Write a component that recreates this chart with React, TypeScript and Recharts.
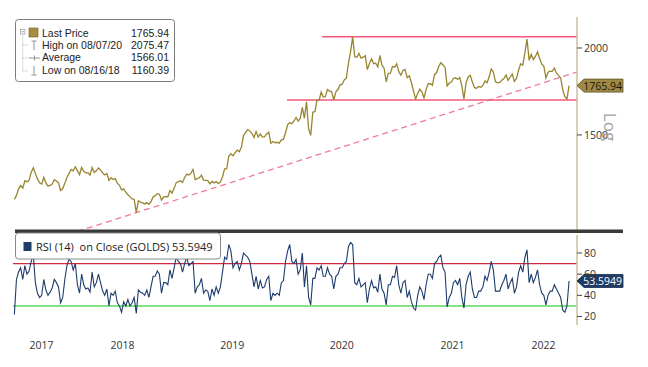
import React from 'react';
import { LineChart, Line, XAxis, YAxis, ReferenceLine, ReferenceDot } from 'recharts';

// Weekly closes starting 07 Jul 2017 (one value per week)
const priceValues: number[] = [
  // 2017
  1212, 1228, 1254, 1269, 1258, 1289, 1284, 1291, 1325, 1346, 1320, 1297, 1280, 1275, 1304, 1280, 1266, 1269, 1275, 1294, 1288, 1280, 1248, 1256, 1278, 1303,
  // 2018
  1320, 1338, 1332, 1350, 1333, 1315, 1347, 1330, 1323, 1324, 1313, 1347, 1325, 1332, 1345, 1336, 1323, 1314, 1320, 1291, 1302, 1294, 1298, 1279, 1270, 1251,
  1255, 1241, 1231, 1223, 1214, 1212, 1160, 1206, 1201, 1198, 1194, 1199, 1192, 1203, 1222, 1227, 1235, 1233, 1209, 1222, 1223, 1222, 1248, 1238, 1257, 1281,
  // 2019
  1285, 1289, 1282, 1303, 1318, 1314, 1322, 1338, 1294, 1298, 1302, 1313, 1292, 1291, 1290, 1276, 1286, 1280, 1286, 1277, 1284, 1305, 1341, 1341, 1399, 1409,
  1400, 1415, 1426, 1419, 1440, 1497, 1513, 1527, 1520, 1507, 1488, 1517, 1489, 1505, 1489, 1490, 1505, 1514, 1459, 1468, 1462, 1464, 1460, 1476, 1478, 1511,
  // 2020
  1552, 1562, 1557, 1571, 1589, 1570, 1584, 1643, 1585, 1674, 1530, 1498, 1617, 1620, 1683, 1683, 1729, 1701, 1703, 1743, 1734, 1730, 1684, 1730, 1743, 1771,
  1774, 1799, 1810, 1902, 1975, 2075, 1944, 1940, 1964, 1934, 1940, 1950, 1862, 1900, 1930, 1899, 1902, 1879, 1951, 1889, 1871, 1788, 1839, 1840, 1881, 1877,
  // 2021
  1898, 1850, 1828, 1856, 1863, 1814, 1824, 1784, 1734, 1690, 1720, 1745, 1730, 1695, 1744, 1777, 1777, 1768, 1831, 1844, 1881, 1905, 1891, 1877, 1764, 1781,
  1787, 1808, 1812, 1802, 1814, 1763, 1690, 1781, 1817, 1827, 1787, 1754, 1750, 1761, 1757, 1767, 1793, 1783, 1818, 1865, 1846, 1788, 1783, 1783, 1798, 1808, 1829,
  // 2022
  1797, 1817, 1835, 1791, 1808, 1860, 1898, 1889, 1970, 2060, 1921, 1958, 1925, 1945, 1975, 1931, 1897, 1883, 1811, 1846, 1853, 1851, 1871, 1840, 1827, 1811,
  1742, 1703, 1690, 1765.94,
];

const rsiValues: number[] = [
  // 2017
  22, 55, 62, 66, 55, 68, 60, 63, 72, 78, 52, 42, 38, 40, 55, 45, 40, 43, 47, 55, 52, 48, 33, 38, 55, 68,
  // 2018
  74, 72, 64, 70, 50, 42, 60, 50, 46, 47, 43, 62, 48, 52, 60, 52, 44, 40, 46, 30, 42, 40, 44, 33, 30, 24,
  34, 30, 36, 30, 33, 38, 23, 45, 43, 42, 40, 45, 38, 48, 58, 58, 63, 60, 42, 52, 52, 50, 64, 56, 66, 76,
  // 2019
  72, 70, 62, 70, 76, 68, 70, 72, 42, 48, 50, 56, 42, 45, 44, 35, 46, 40, 48, 42, 48, 62, 76, 74, 88, 82,
  66, 70, 72, 64, 70, 80, 78, 76, 72, 60, 48, 58, 46, 54, 47, 48, 55, 58, 35, 42, 40, 42, 40, 52, 54, 72,
  // 2020
  82, 88, 72, 70, 74, 60, 64, 80, 48, 68, 38, 31, 56, 56, 66, 64, 68, 58, 58, 66, 60, 58, 46, 58, 60, 66,
  66, 70, 72, 86, 90, 88, 52, 50, 56, 48, 50, 52, 33, 46, 54, 47, 48, 43, 60, 46, 42, 31, 50, 50, 58, 57,
  // 2021
  68, 50, 42, 52, 54, 38, 44, 34, 28, 26, 40, 48, 44, 36, 50, 60, 60, 56, 70, 72, 76, 78, 66, 62, 29, 38,
  42, 52, 54, 50, 56, 38, 28, 50, 58, 62, 46, 38, 38, 44, 44, 48, 58, 54, 62, 72, 64, 44, 44, 44, 50, 54, 60,
  // 2022
  46, 52, 56, 42, 48, 62, 68, 62, 76, 83, 52, 60, 52, 57, 64, 50, 42, 40, 31, 40, 44, 44, 50, 46, 42, 38,
  26, 24, 30, 53.5949,
];

const xTickValues = [2017.76, 2018.5, 2019.5, 2020.5, 2021.51, 2022.34];
const xTickLabels = ['2017', '2018', '2019', '2020', '2021', '2022'];
const priceTicks = [1500, 2000];
const rsiTicks = [20, 40, 60, 80];

const lastPrice = 1765.94;
const highPrice = 2075.47;
const avgPrice = 1566.01;
const lowPrice = 1160.39;
const rsiLast = 53.5949;
const supportLevel = 1684;
const resistanceStart = 2020.32;
const supportStart = 2020.0;
const trendFrom = { x: 2018.0, y: 1079 };
const trendTo = { x: 2022.645, y: 1847 };

const X_DOMAIN: [number, number] = [2017.5, 2022.645];
const PRICE_DOMAIN: [number, number] = [1088, 2216];
const RSI_DOMAIN: [number, number] = [12, 97];

const weekToYear = (i: number) => {
  const ms = Date.UTC(2017, 6, 7) + i * 7 * 86400000;
  const d = new Date(ms);
  const y = d.getUTCFullYear();
  const s = Date.UTC(y, 0, 1);
  const e = Date.UTC(y + 1, 0, 1);
  return y + (ms - s) / (e - s);
};

const priceData = priceValues.map((v, i) => ({ t: weekToYear(i), price: v }));
const rsiData = rsiValues.map((v, i) => ({ t: weekToYear(i), rsi: v }));

const FONT = '"Open Sans", "Noto Sans", sans-serif';
const LEGEND_FONT = '"Liberation Sans", Arial, sans-serif';
const AXIS_COLOR = '#cdbf9e';
const tickStyle = { fontSize: 10.5, fill: '#333', fontFamily: FONT };

const makeTag = (fill: string, stroke: string, textColor: string, label: string) => (props: any) => {
  const { cx, cy } = props;
  if (cx == null || cy == null) return <g />;
  const h = 6.5;
  const pts = `${cx},${cy} ${cx + 7},${cy - h} ${cx + 46},${cy - h} ${cx + 46},${cy + h} ${cx + 7},${cy + h}`;
  return (
    <g>
      <polygon points={pts} fill={fill} stroke={stroke} strokeWidth={0.8} />
      <text x={cx + 45} y={cy} textAnchor="end" dominantBaseline="central" fontSize={10.5} fontFamily={FONT} fill={textColor}>
        {label}
      </text>
    </g>
  );
};

const legendRows = [
  { label: 'Last Price', value: lastPrice.toFixed(2) },
  { label: 'High on 08/07/20', value: highPrice.toFixed(2) },
  { label: 'Average', value: avgPrice.toFixed(2) },
  { label: 'Low on 08/16/18', value: lowPrice.toFixed(2) },
];

export default function App() {
  return (
    <div style={{ position: 'absolute', left: 0, top: 0, width: 648, height: 367, background: '#fff', overflow: 'hidden' }}>
      <div style={{ position: 'absolute', left: 0, top: 0 }}>
        <LineChart width={648} height={232} data={priceData} margin={{ top: 17, right: 0, left: 13, bottom: 0 }}>
          <XAxis type="number" dataKey="t" domain={X_DOMAIN} hide allowDataOverflow />
          <YAxis
            orientation="right"
            width={71}
            scale="log"
            domain={PRICE_DOMAIN}
            allowDataOverflow
            ticks={priceTicks}
            tick={tickStyle}
            tickSize={5}
            tickMargin={2}
            tickLine={{ stroke: '#444' }}
            axisLine={{ stroke: AXIS_COLOR, strokeWidth: 1.5 }}
          />
          <ReferenceLine
            segment={[{ x: trendFrom.x, y: trendFrom.y }, { x: trendTo.x, y: trendTo.y }]}
            stroke="#f07b92"
            strokeWidth={1.3}
            strokeDasharray="6 4"
            ifOverflow="hidden"
          />
          <ReferenceLine
            segment={[{ x: resistanceStart, y: highPrice }, { x: X_DOMAIN[1], y: highPrice }]}
            stroke="#f2577a"
            strokeWidth={1.5}
            ifOverflow="visible"
          />
          <ReferenceLine
            segment={[{ x: supportStart, y: supportLevel }, { x: X_DOMAIN[1], y: supportLevel }]}
            stroke="#f2577a"
            strokeWidth={1.5}
            ifOverflow="visible"
          />
          <Line
            type="linear"
            dataKey="price"
            stroke="#98852f"
            strokeWidth={1.3}
            dot={false}
            isAnimationActive={false}
          />
          <ReferenceDot
            x={X_DOMAIN[1]}
            y={lastPrice}
            r={0}
            ifOverflow="visible"
            shape={makeTag('#9e8a45', '#5e5020', '#1a160a', lastPrice.toFixed(2))}
          />
        </LineChart>
      </div>
      <div style={{ position: 'absolute', left: 0, top: 0 }}>
        <LineChart width={648} height={367} data={rsiData} margin={{ top: 235, right: 0, left: 13, bottom: 0 }}>
          <XAxis
            type="number"
            dataKey="t"
            domain={X_DOMAIN}
            allowDataOverflow
            ticks={xTickValues}
            tickFormatter={(v: number) => xTickLabels[xTickValues.indexOf(v)] ?? ''}
            tick={tickStyle}
            tickLine={false}
            axisLine={false}
            tickMargin={11}
            height={42}
            interval={0}
          />
          <YAxis
            orientation="right"
            width={71}
            domain={RSI_DOMAIN}
            allowDataOverflow
            ticks={rsiTicks}
            tick={tickStyle}
            tickSize={5}
            tickMargin={2}
            tickLine={{ stroke: '#444' }}
            axisLine={{ stroke: AXIS_COLOR, strokeWidth: 1.5 }}
            interval={0}
          />
          <ReferenceLine y={70} stroke="#d1293d" strokeWidth={1.2} />
          <ReferenceLine y={30} stroke="#5ad85a" strokeWidth={1.5} />
          <Line
            type="linear"
            dataKey="rsi"
            stroke="#1d3b6c"
            strokeWidth={1.1}
            dot={false}
            isAnimationActive={false}
          />
          <ReferenceDot
            x={X_DOMAIN[1]}
            y={rsiLast}
            r={0}
            ifOverflow="visible"
            shape={makeTag('#1f3c66', '#13294a', '#ffffff', rsiLast.toFixed(4))}
          />
        </LineChart>
      </div>
      <svg width={648} height={367} style={{ position: 'absolute', left: 0, top: 0, pointerEvents: 'none' }}>
        {/* panel separator */}
        <rect x={15} y={229.5} width={608} height={3.5} fill="#3a3a3a" />
        {/* price legend */}
        <rect x={15.5} y={19.5} width={159} height={62} rx={3} fill="#fff" stroke="#7c7c7c" />
        <rect x={20.5} y={29.5} width={4.5} height={4.5} fill="#fff" stroke="#999" strokeWidth={0.7} />
        <line x1={21.5} y1={31.75} x2={24} y2={31.75} stroke="#777" strokeWidth={0.7} />
        <line x1={22.75} y1={34.5} x2={22.75} y2={71} stroke="#aaa" strokeWidth={0.8} strokeDasharray="1 1" />
        {[45, 58, 71].map((y) => (
          <line key={y} x1={22.75} y1={y} x2={28} y2={y} stroke="#aaa" strokeWidth={0.8} strokeDasharray="1 1" />
        ))}
        <rect x={29} y={28} width={9} height={9} fill="#a58e3e" stroke="#6e5f25" strokeWidth={0.6} />
        <line x1={34} y1={41} x2={34} y2={50} stroke="#888" strokeWidth={0.9} />
        <line x1={31.5} y1={41} x2={36.5} y2={41} stroke="#888" strokeWidth={0.9} />
        <line x1={29} y1={58} x2={40} y2={58} stroke="#888" strokeWidth={0.9} />
        <line x1={34.5} y1={55.5} x2={34.5} y2={60.5} stroke="#888" strokeWidth={0.9} />
        <line x1={34} y1={66} x2={34} y2={75} stroke="#888" strokeWidth={0.9} />
        <line x1={31.5} y1={75} x2={36.5} y2={75} stroke="#888" strokeWidth={0.9} />
        {legendRows.map((r, i) => (
          <g key={r.label}>
            <text x={42} y={37 + i * 12.2} fontSize={10.5} fontFamily={LEGEND_FONT} fill="#222">{r.label}</text>
            <text x={169} y={37 + i * 12.2} fontSize={10.5} fontFamily={LEGEND_FONT} fill="#222" textAnchor="end">{r.value}</text>
          </g>
        ))}
        {/* RSI legend */}
        <rect x={15.5} y={233} width={205} height={26} rx={3} fill="#fff" stroke="#8a8a8a" />
        <rect x={23.5} y={242} width={8} height={9} fill="#1f3c66" />
        <text x={36} y={251} fontSize={11} fontFamily={FONT} fill="#222" style={{ whiteSpace: 'pre' }}>
          {`RSI (14)  on Close (GOLDS) ${rsiLast.toFixed(4)}`}
        </text>
        {/* scale label */}
        <text
          x={610}
          y={127}
          fontSize={17}
          fontFamily={FONT}
          fill="#a3a3a3"
          textAnchor="middle"
          dominantBaseline="central"
          transform="rotate(90 610 127)"
        >
          Log
        </text>
      </svg>
    </div>
  );
}
